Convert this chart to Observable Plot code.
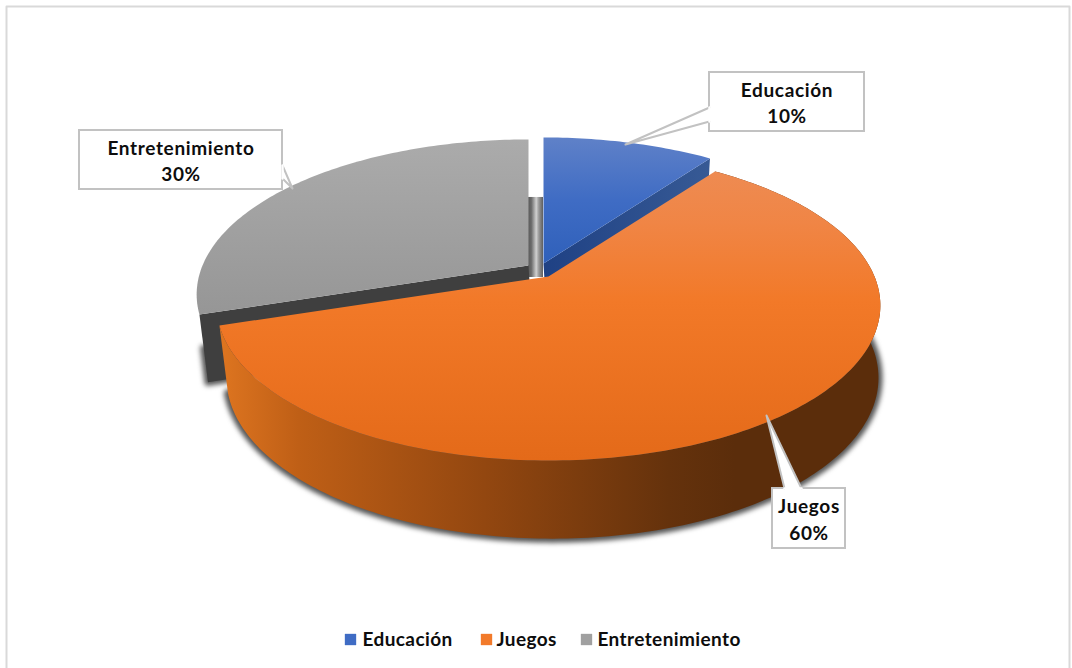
<!DOCTYPE html>
<html lang="es">
<head>
<meta charset="utf-8">
<title>Distribución por categoría</title>
<script src="https://cdn.jsdelivr.net/npm/d3@7"></script>
<script src="https://cdn.jsdelivr.net/npm/@observablehq/plot@0.6"></script>
<style>
  html, body { margin: 0; padding: 0; background: #fff; }
  svg { display: block; }
</style>
</head>
<body>
<div id="chart"></div>
<script>
// Chart values
const categories = ["Educación", "Juegos", "Entretenimiento"];
const shares = [10, 60, 30];
const legendColors = ["#3f6cc4", "#f27a2a", "#a0a0a0"];

// Disc geometry: a perspective view of the top rim and of the lower rim
const topRim = {cx: 548, cy: 276, a: 326, b: 149.6, p: 0.187};
const lowRim = {cx: 552, cy: 342, a: 318, b: 153, p: 0.22};

// Displacement of each exploded slice from the disc centre
const explodeX = [-5, 0, -20];
const explodeY = [-13, 0, -11];

const W = 1072, H = 668;

function rimPoint(rim, deg, dx, dy) {
  const t = deg * Math.PI / 180;
  const w = 1 + rim.p * Math.cos(t);
  return {
    x: rim.cx + dx + rim.a * Math.sin(t) / w,
    y: rim.cy + dy - rim.b * Math.cos(t) / w
  };
}
function arc(rim, from, to, dx, dy) {
  const n = Math.max(2, Math.ceil(Math.abs(to - from)));
  return d3.range(n + 1).map(i => rimPoint(rim, from + (to - from) * i / n, dx, dy));
}
const apex = (rim, dx, dy) => ({x: rim.cx + dx, y: rim.cy + dy});

// Slice angles come from the cumulative shares, clockwise from twelve o'clock
const slices = [];
shares.reduce((sum, v, i) => {
  const start = sum * 3.6, end = (sum + v) * 3.6;
  slices.push({category: categories[i], value: v, start, end, dx: explodeX[i], dy: explodeY[i]});
  return sum + v;
}, 0);
const [edu, jue, ent] = slices;

const topFace = s => [apex(topRim, s.dx, s.dy), ...arc(topRim, s.start, s.end, s.dx, s.dy), apex(topRim, s.dx, s.dy)];
const wall = (s, deg) => [
  apex(topRim, s.dx, s.dy),
  rimPoint(topRim, deg, s.dx, s.dy),
  rimPoint(lowRim, deg, s.dx, s.dy),
  apex(lowRim, s.dx, s.dy),
  apex(topRim, s.dx, s.dy)
];
const juegosSide = [
  ...arc(topRim, jue.end, jue.start, 0, 0),
  ...arc(lowRim, jue.start, jue.end, 0, 0)
];
juegosSide.push(juegosSide[0]);

// Shadows follow only the lower outline of the solid
const juegosShadow = [...arc(lowRim, 85, jue.end, 0, 0), apex(lowRim, 0, -40), rimPoint(lowRim, 85, 0, 0)];
const entCorner = rimPoint(topRim, ent.start, ent.dx, ent.dy);
const entLow = rimPoint(lowRim, ent.start, ent.dx, ent.dy);
const wallShadow = [
  {x: entCorner.x + (entLow.x - entCorner.x) * 0.5, y: entCorner.y + (entLow.y - entCorner.y) * 0.5},
  entLow,
  apex(lowRim, ent.dx, ent.dy),
  {x: entCorner.x + (entLow.x - entCorner.x) * 0.5, y: entCorner.y + (entLow.y - entCorner.y) * 0.5}
];
const gapTop = rimPoint(topRim, 0, 0, 0).y + 47;
const gapBottom = topRim.cy + 1;

// Gradients referenced by the fills below
function gradient(id, vertical, stops) {
  const g = d3.create("svg:linearGradient").attr("id", id)
    .attr("x1", 0).attr("y1", 0).attr("x2", vertical ? 0 : 1).attr("y2", vertical ? 1 : 0);
  stops.forEach(([o, c]) => g.append("stop").attr("offset", o).attr("stop-color", c));
  return g.node();
}
function defs() {
  const d = d3.create("svg:defs");
  [
    gradient("eduTop", true, [[0, "#5f81c8"], [0.5, "#3f6cc4"], [1, "#2f60ba"]]),
    gradient("eduWall", false, [[0, "#1f4184"], [1, "#375a95"]]),
    gradient("jueTop", true, [[0, "#ee8b52"], [0.18, "#f08545"], [0.45, "#f27928"], [1, "#e46a19"]]),
    gradient("jueSide", false, [[0, "#de7520"], [0.12, "#bf5f16"], [0.4, "#934710"], [0.68, "#65320c"], [0.78, "#5b2d0b"], [1, "#5b2d0b"]]),
    gradient("entTop", true, [[0, "#ababab"], [1, "#969696"]]),
    gradient("gap", false, [[0, "#5a5a5a"], [0.22, "#6a6a6a"], [0.55, "#d0d0d0"], [0.72, "#9a9a9a"], [1, "#5e5e5e"]])
  ].forEach(n => d.node().append(n));
  return d.node();
}

// Adds tracking to a text mark, which Plot has no option for
const tracked = spacing => (index, scales, values, dimensions, context, next) => {
  const g = next(index, scales, values, dimensions, context);
  g.setAttribute("letter-spacing", spacing);
  return g;
};

// Callouts: box, then a wedge pointing at the slice
const calloutStroke = "#c2c2c2";
const callouts = [
  {box: [709, 72, 864, 131], wedge: [[709, 107], [625, 144], [709, 121]], slice: edu},
  {box: [772, 488, 845, 548], wedge: [[784, 488], [766, 415], [801, 488]], slice: jue},
  {box: [79, 130, 282, 189], wedge: [[282, 165], [292, 188], [282, 178]], slice: ent}
];
const calloutMarks = callouts.flatMap(({box: [x1, y1, x2, y2], wedge, slice}) => {
  const outline = wedge.map(([x, y]) => ({x, y}));
  const join = [outline[0], outline[2]];
  return [
    Plot.rect([0], {x1: () => x1, x2: () => x2, y1: () => y1, y2: () => y2, fill: "white", stroke: calloutStroke, strokeWidth: 2}),
    Plot.line([...outline, outline[0]], {x: "x", y: "y", fill: "white", stroke: "none"}),
    Plot.line(outline, {x: "x", y: "y", stroke: calloutStroke, strokeWidth: 2}),
    Plot.line(join, {x: "x", y: "y", stroke: "white", strokeWidth: 2.4}),
    Plot.text([`${slice.category}\n${slice.value}%`], {
      x: () => (x1 + x2) / 2, y: () => (y1 + y2) / 2 - 0.5,
      text: d => d, fontFamily: "Lato", fontWeight: 700, fontSize: 19, lineHeight: 1.39, fill: "#0d0d0d",
      render: tracked(0.65)
    })
  ];
});

// Legend along the bottom of the frame
const legendSwatchX = [350, 486, 586];
const legendTextX = [362, 496, 597];
const legendY = 639;
const legendRows = categories.map((c, i) => ({category: c, sx: legendSwatchX[i], tx: legendTextX[i]}));

const frameLine = [{x: 6, y: H}, {x: 6, y: 6}, {x: 1069, y: 6}, {x: 1069, y: H}];

const chart = Plot.plot({
  width: W, height: H, margin: 0,
  x: {domain: [0, W], range: [0, W], axis: null},
  y: {domain: [0, H], range: [0, H], axis: null},
  color: {domain: categories, range: legendColors},
  style: {background: "white"},
  marks: [
    defs,
    Plot.line(frameLine, {x: "x", y: "y", stroke: "#d9d9d9", strokeWidth: 2}),

    // soft shadows beneath the slices
    Plot.line(juegosShadow, {x: "x", y: "y", fill: "#555", stroke: "#555", strokeWidth: 8, imageFilter: "blur(2.5px)"}),
    Plot.line(wallShadow, {x: "x", y: "y", fill: "#555", stroke: "#555", strokeWidth: 7, imageFilter: "blur(2.5px)"}),

    // gap between the exploded slices
    Plot.rect([0], {x1: () => rimPoint(topRim, 0, ent.dx, 0).x, x2: () => rimPoint(topRim, 0, edu.dx, 0).x, y1: () => gapTop, y2: () => gapBottom, fill: "url(#gap)"}),

    // back slices
    Plot.line(wall(edu, edu.end), {x: "x", y: "y", fill: "url(#eduWall)", stroke: "none"}),
    Plot.line(topFace(edu), {x: "x", y: "y", fill: "url(#eduTop)", stroke: "none"}),
    Plot.line(wall(ent, ent.start), {x: "x", y: "y", fill: "#3f3f3f", stroke: "none"}),
    Plot.line(topFace(ent), {x: "x", y: "y", fill: "url(#entTop)", stroke: "none"}),

    // front slice
    Plot.line(juegosSide, {x: "x", y: "y", fill: "url(#jueSide)", stroke: "none"}),
    Plot.line(topFace(jue), {x: "x", y: "y", fill: "url(#jueTop)", stroke: "none"}),

    ...calloutMarks,

    Plot.dot(legendRows, {x: "sx", y: () => legendY, symbol: "square", r: 6.4, fill: "category", stroke: "none"}),
    Plot.text(legendRows, {x: "tx", y: () => legendY, text: "category", textAnchor: "start", fontFamily: "Lato", fontWeight: 700, fontSize: 19, fill: "#0d0d0d", render: tracked(0.4)})
  ]
});
document.getElementById("chart").append(chart);
</script>
</body>
</html>
